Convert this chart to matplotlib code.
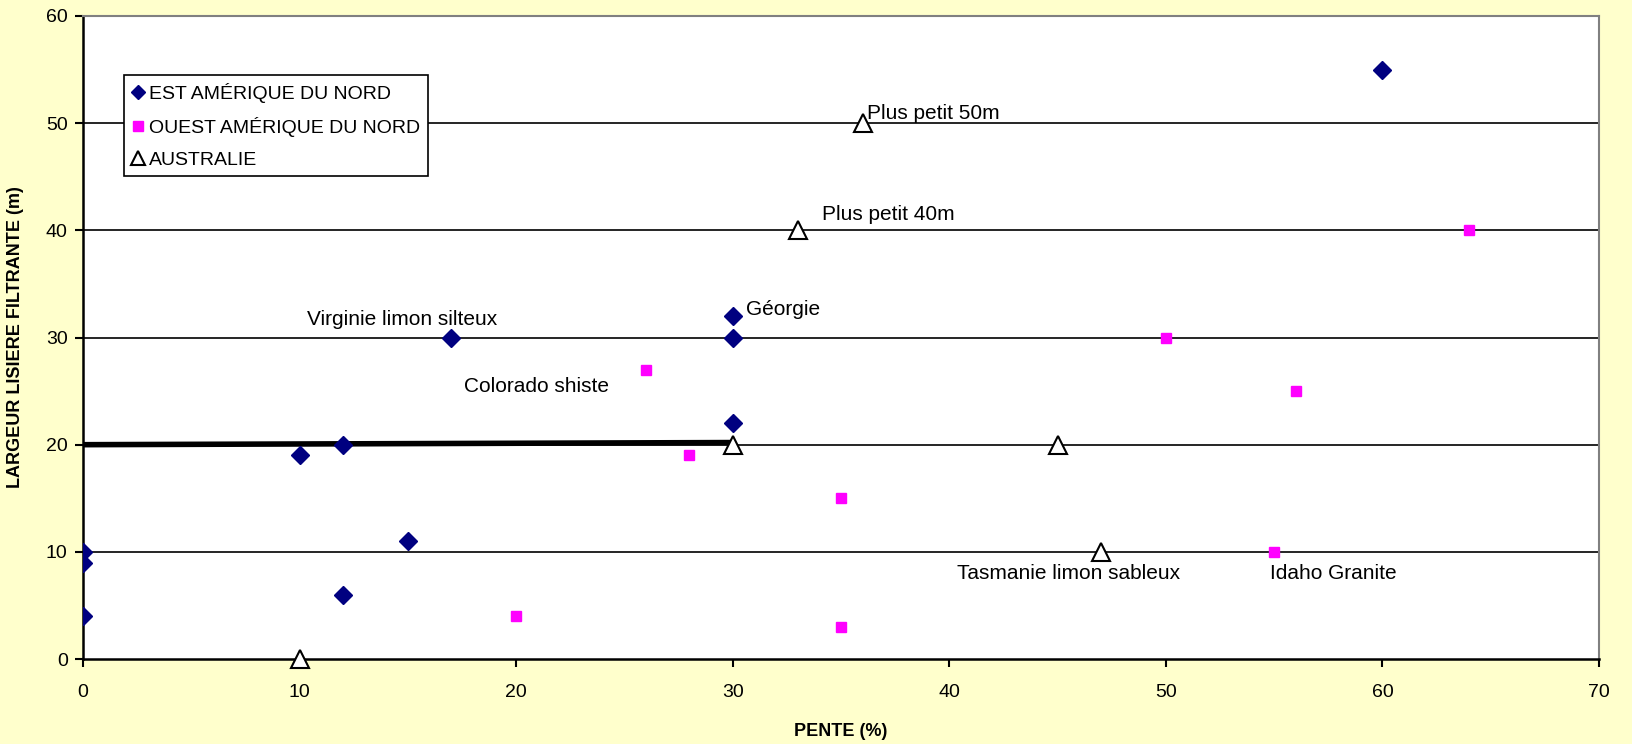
import matplotlib
matplotlib.use('Agg')
import matplotlib.pyplot as plt

plt.rcParams['font.family'] = ['Liberation Sans', 'DejaVu Sans']

# EST AMÉRIQUE DU NORD
est_x = [0, 0, 0, 10, 12, 12, 15, 17, 30, 30, 30, 60]
est_y = [10, 9, 4, 19, 20, 6, 11, 30, 32, 30, 22, 55]
# OUEST AMÉRIQUE DU NORD
ouest_x = [20, 26, 28, 35, 35, 50, 55, 56, 64]
ouest_y = [4, 27, 19, 15, 3, 30, 10, 25, 40]
# AUSTRALIE
aus_x = [10, 30, 33, 36, 45, 47]
aus_y = [0, 20, 40, 50, 20, 10]
# ligne epaisse
trend_x = [0, 30]
trend_y = [20, 20.2]

labels = ['EST AMÉRIQUE DU NORD', 'OUEST AMÉRIQUE DU NORD', 'AUSTRALIE']

fig = plt.figure(figsize=(16.33, 7.44), dpi=100, facecolor='#FFFFCC')
ax = fig.add_axes([0.0508, 0.1142, 0.9284, 0.8643])
ax.set_facecolor('white')

for y in range(10, 60, 10):
    ax.axhline(y, color='black', lw=1.2, zorder=1)

ax.plot(trend_x, trend_y, color='black', lw=4, zorder=2, solid_capstyle='butt')

ax.plot(est_x, est_y, 'D', color='#000080', ms=9.5, ls='none', label=labels[0], zorder=3)
ax.plot(ouest_x, ouest_y, 's', color='#FF00FF', ms=7, ls='none', label=labels[1], zorder=3)
ax.plot(aus_x, aus_y, '^', mfc='white', mec='black', mew=1.5, ms=13, ls='none',
        label=labels[2], zorder=3, clip_on=False)

# annotations
notes = [('Plus petit 50m', 36.2, 50.9),
         ('Plus petit 40m', 34.1, 41.5),
         ('Virginie limon silteux', 10.35, 31.7),
         ('Géorgie', 30.6, 32.6),
         ('Colorado shiste', 17.6, 25.4),
         ('Tasmanie limon sableux', 40.35, 8.0),
         ('Idaho Granite', 54.8, 8.0)]
for txt, x, y in notes:
    ax.text(x, y, txt, fontsize=15, ha='left', va='center', color='black', zorder=4)

ax.set_xlim(0, 70)
ax.set_ylim(0, 60)
ax.set_xticks(range(0, 71, 10))
ax.set_yticks(range(0, 61, 10))
ax.tick_params(direction='out', length=6, width=1.5, labelsize=14)
ax.tick_params(axis='x', pad=12)
ax.tick_params(axis='y', pad=5)

for s in ['left', 'bottom']:
    ax.spines[s].set_color('black')
    ax.spines[s].set_linewidth(1.8)
for s in ['top', 'right']:
    ax.spines[s].set_color('#808080')
    ax.spines[s].set_linewidth(1.5)

ax.set_xlabel('PENTE (%)', fontsize=13, fontweight='bold', labelpad=16)
ax.set_ylabel('LARGEUR LISIERE FILTRANTE (m)', fontsize=13, fontweight='bold', labelpad=16)

leg = ax.legend(loc='upper left', bbox_to_anchor=(0.027, 0.908), borderaxespad=0,
                fontsize=14, handlelength=0.7, handletextpad=0.2,
                borderpad=0.4, labelspacing=0.72, fancybox=False, edgecolor='black',
                framealpha=1)
leg.get_frame().set_linewidth(1.2)
for h, m in zip(leg.legend_handles, [7.2, 7.7, 10]):
    h.set_markersize(m)

fig.savefig('out.png', dpi=100, facecolor=fig.get_facecolor())
